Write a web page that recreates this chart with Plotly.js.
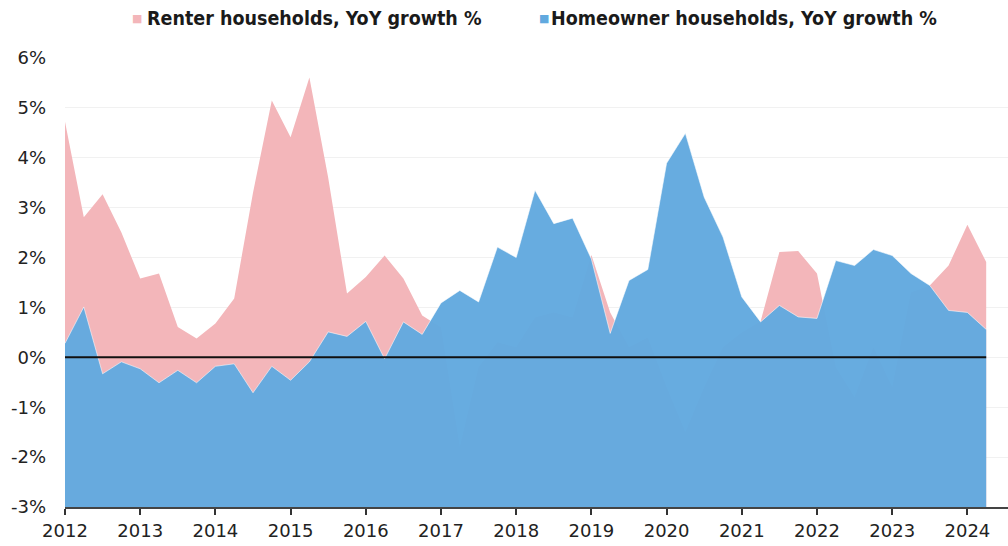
<!DOCTYPE html>
<html>
<head>
<meta charset="utf-8">
<script src="https://cdn.plot.ly/plotly-3.0.1.min.js"></script>
<style>
  html, body { margin: 0; padding: 0; background: #ffffff; }
  #chart { width: 1008px; height: 546px; }
</style>
</head>
<body>
<div id="chart"></div>
<script>
// Quarter positions (decimal years)
var quarters = [
  2012.00, 2012.25, 2012.50, 2012.75,
  2013.00, 2013.25, 2013.50, 2013.75,
  2014.00, 2014.25, 2014.50, 2014.75,
  2015.00, 2015.25, 2015.50, 2015.75,
  2016.00, 2016.25, 2016.50, 2016.75,
  2017.00, 2017.25, 2017.50, 2017.75,
  2018.00, 2018.25, 2018.50, 2018.75,
  2019.00, 2019.25, 2019.50, 2019.75,
  2020.00, 2020.25, 2020.50, 2020.75,
  2021.00, 2021.25, 2021.50, 2021.75,
  2022.00, 2022.25, 2022.50, 2022.75,
  2023.00, 2023.25, 2023.50, 2023.75,
  2024.00, 2024.25
];

// Renter households, YoY growth %
var renter = [
  4.72, 2.81, 3.27, 2.50,
  1.58, 1.68, 0.61, 0.38,
  0.68, 1.18, 3.30, 5.15,
  4.41, 5.61, 3.60, 1.28,
  1.61, 2.04, 1.58, 0.84,
  0.60, -1.80, -0.20, 0.30,
  0.20, 0.80, 0.90, 0.80,
  2.05, 0.90, 0.20, 0.40,
  -0.60, -1.50, -0.60, 0.20,
  0.50, 0.72, 2.11, 2.13,
  1.68, -0.20, -0.80, 0.20,
  -0.60, 1.30, 1.44, 1.84,
  2.66, 1.91
];

// Homeowner households, YoY growth %
var owner = [
  0.28, 1.01, -0.33, -0.09,
  -0.23, -0.51, -0.26, -0.51,
  -0.18, -0.13, -0.71, -0.18,
  -0.46, -0.09, 0.51, 0.42,
  0.72, -0.03, 0.71, 0.46,
  1.09, 1.34, 1.11, 2.21,
  2.00, 3.35, 2.68, 2.79,
  1.97, 0.48, 1.54, 1.76,
  3.89, 4.49, 3.21, 2.41,
  1.21, 0.71, 1.04, 0.81,
  0.78, 1.94, 1.84, 2.16,
  2.04, 1.68, 1.44, 0.94,
  0.90, 0.56
];

var yTickVals = [-3, -2, -1, 0, 1, 2, 3, 4, 5, 6];
var yTickText = ['-3%', '-2%', '-1%', '0%', '1%', '2%', '3%', '4%', '5%', '6%'];
var xTickVals = [2012, 2013, 2014, 2015, 2016, 2017, 2018, 2019, 2020, 2021, 2022, 2023, 2024];
var xTickText = ['2012', '2013', '2014', '2015', '2016', '2017', '2018', '2019', '2020', '2021', '2022', '2023', '2024'];

var renterName = 'Renter households, YoY growth %';
var ownerName = 'Homeowner households, YoY growth %';

var PINK = 'rgb(243,182,186)';
var BLUE = 'rgb(97,169,223)';
var FLOOR = yTickVals[0];

var floorLine = quarters.map(function () { return FLOOR; });

var traces = [
  { x: quarters, y: floorLine, mode: 'lines', line: { width: 0 }, hoverinfo: 'skip', showlegend: false },
  { x: quarters, y: renter, name: renterName, mode: 'lines', fill: 'tonexty',
    fillcolor: PINK, line: { width: 0, color: PINK }, showlegend: false },
  { x: quarters, y: floorLine, mode: 'lines', line: { width: 0 }, hoverinfo: 'skip', showlegend: false },
  { x: quarters, y: owner, name: ownerName, mode: 'lines', fill: 'tonexty',
    fillcolor: 'rgba(97,169,223,0.965)', line: { width: 1, color: 'rgba(255,255,255,0.55)' }, showlegend: false }
];

var lastQ = quarters[quarters.length - 1];
var TICKFONT = { family: '"DejaVu Sans", sans-serif', size: 18, color: '#222222' };
var LEGFONT = { family: '"DejaVu Sans Condensed", "DejaVu Sans", sans-serif', size: 19.5, color: '#1a1a1a' };

var layout = {
  width: 1008,
  height: 546,
  margin: { l: 65, r: 0, t: 58, b: 39 },
  paper_bgcolor: '#ffffff',
  plot_bgcolor: '#ffffff',
  showlegend: false,
  font: { family: '"DejaVu Sans", sans-serif', color: '#222222', size: 18 },
  xaxis: {
    range: [2012, 2024.54],
    tickvals: xTickVals,
    ticktext: xTickText,
    ticks: 'outside',
    ticklen: 6,
    tickwidth: 2,
    tickcolor: '#333333',
    showline: true,
    linecolor: '#444444',
    linewidth: 2,
    showgrid: false,
    zeroline: false,
    tickfont: TICKFONT
  },
  yaxis: {
    range: [-3, 6],
    tickvals: yTickVals,
    ticktext: yTickText,
    ticks: '',
    showline: false,
    showgrid: true,
    gridcolor: '#f1f1f1',
    gridwidth: 1,
    zeroline: false,
    ticklabelstandoff: 18,
    tickfont: TICKFONT
  },
  shapes: [
    { type: 'line', xref: 'x', yref: 'y', x0: quarters[0], x1: lastQ, y0: 0, y1: 0,
      line: { color: '#111111', width: 2 }, layer: 'above' }
  ],
  annotations: [
    { xref: 'paper', yref: 'paper', x: (137 - 65) / 943, y: (507 - 18) / 449, xanchor: 'center', yanchor: 'middle',
      text: '■', showarrow: false, font: { family: '"DejaVu Sans", sans-serif', size: 11, color: PINK } },
    { xref: 'paper', yref: 'paper', x: (145 - 65) / 943, y: (507 - 18) / 449, xanchor: 'left', yanchor: 'middle',
      text: '<b>' + renterName + '</b>', showarrow: false, font: LEGFONT },
    { xref: 'paper', yref: 'paper', x: (544 - 65) / 943, y: (507 - 18) / 449, xanchor: 'center', yanchor: 'middle',
      text: '■', showarrow: false, font: { family: '"DejaVu Sans", sans-serif', size: 11, color: BLUE } },
    { xref: 'paper', yref: 'paper', x: (549 - 65) / 943, y: (507 - 18) / 449, xanchor: 'left', yanchor: 'middle',
      text: '<b>' + ownerName + '</b>', showarrow: false, font: LEGFONT }
  ]
};

Plotly.newPlot('chart', traces, layout, { displayModeBar: false, staticPlot: true });
</script>
</body>
</html>
